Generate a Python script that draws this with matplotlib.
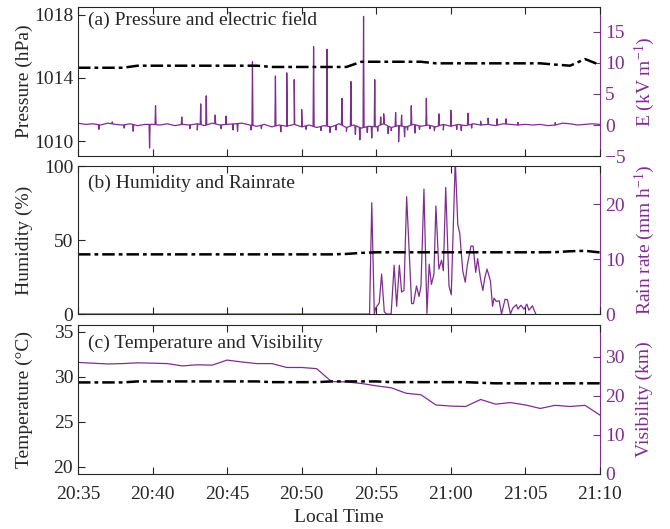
import numpy as np
import matplotlib
matplotlib.use("Agg")
import matplotlib.pyplot as plt

plt.rcParams['font.family'] = ['Liberation Serif', 'DejaVu Serif']
plt.rcParams['mathtext.fontset'] = 'custom'
plt.rcParams['mathtext.rm'] = 'Liberation Serif'
plt.rcParams['mathtext.default'] = 'regular'
plt.rcParams['font.size'] = 14

PURPLE = (0.494, 0.184, 0.556)
DARK = '#262626'

# ---------------- data ----------------
# time in minutes after 20:35
minute_t = list(range(36))
tick_pos = [0, 5, 10, 15, 20, 25, 30, 35]
tick_labels = ['20:35', '20:40', '20:45', '20:50', '20:55', '21:00', '21:05', '21:10']

pressure = [1014.65, 1014.65, 1014.65, 1014.65, 1014.78, 1014.78, 1014.78, 1014.78, 1014.78,
            1014.78, 1014.78, 1014.78, 1014.78, 1014.7, 1014.7, 1014.7, 1014.7, 1014.7,
            1014.7, 1015.03, 1015.03, 1015.03, 1015.03, 1015.03, 1014.93, 1014.93, 1014.93,
            1014.93, 1014.93, 1014.93, 1014.93, 1014.93, 1014.85, 1014.78, 1015.2, 1014.83]

humidity = [40.3, 40.3, 40.3, 40.3, 40.3, 40.3, 40.3, 40.3, 40.3, 40.3, 40.3, 40.3,
            40.3, 40.3, 40.3, 40.3, 40.3, 40.3, 40.6, 41.3, 41.7, 41.7, 41.7, 41.7,
            41.7, 41.7, 41.7, 41.7, 41.7, 41.7, 41.7, 41.7, 41.8, 42.4, 42.7, 41.6]

temperature = [29.37, 29.37, 29.37, 29.37, 29.48, 29.48, 29.48, 29.48, 29.48, 29.48,
               29.48, 29.48, 29.48, 29.4, 29.4, 29.4, 29.4, 29.48, 29.48, 29.48, 29.48,
               29.4, 29.4, 29.4, 29.4, 29.4, 29.4, 29.33, 29.27, 29.27, 29.27, 29.27,
               29.27, 29.27, 29.27, 29.27]

visibility = [28.6, 28.4, 28.2, 28.3, 28.5, 28.4, 28.3, 27.7, 28.0, 27.9, 29.2, 28.7,
              28.3, 28.3, 27.3, 27.3, 27.0, 23.7, 23.6, 23.2, 22.6, 22.1, 20.7, 20.3,
              17.7, 17.4, 17.3, 19.1, 17.9, 18.3, 17.7, 16.8, 17.6, 17.3, 17.6, 15.1]

# electric field: baseline (every 0.5 min) and spikes
efield_base_t = [i * 0.5 for i in range(71)]
efield_base_v = [0.3, 0.1, 0.2, 0.0, 0.3, 0.1, 0.0, 0.2, -0.1, 0.1,
                 0.1, 0.0, 0.2, -0.1, 0.1, 0.0, 0.2, -0.1, 0.3, 0.0,
                 0.1, 0.2, 0.3, 0.0, -0.2, 0.1, -0.3, 0.0, -0.2, 0.1,
                 -0.3, 0.0, -0.4, -0.1, -0.3, 0.2, -0.4, 0.0, -0.5, -0.2,
                 -0.3, 0.2, -0.4, -0.1, -0.3, 0.1, -0.2, 0.0, -0.3, 0.1,
                 -0.2, 0.1, -0.1, 0.2, 0.0, 0.1, -0.1, 0.2, 0.1, 0.0,
                 0.1, 0.0, 0.1, -0.1, 0.0, 0.3, 0.2, 0.0, 0.1, 0.2, 0.1]
spike_t = [1.4, 2.3, 3.1, 3.7, 4.8, 5.2, 6.96, 7.5, 8.0, 8.23, 8.6, 9.2, 9.6, 9.93,
           10.4, 10.7, 11.6, 11.7, 12.3, 13.24, 13.6, 14.0, 14.5, 15.0, 15.3, 15.8,
           16.3, 16.7, 16.9, 17.3, 17.7, 18.0, 18.3, 18.6, 18.9, 19.15, 19.4, 19.7,
           19.9, 20.1, 20.3, 20.5, 20.8, 21.0, 21.3, 21.5, 21.7, 21.9, 22.1, 22.35,
           22.6, 22.9, 23.36, 23.6, 23.9, 24.2, 24.5, 25.0, 25.4, 25.7, 26.15, 26.4,
           27.0, 27.5, 28.1, 28.7, 29.5, 32.0]
spike_v = [-0.7, 0.5, -0.5, -1.0, -3.7, 3.1, 1.3, -0.6, -0.8, 3.4, 4.7, 1.6, -0.6, 1.45,
           -0.8, -1.0, -0.8, 10.2, -0.6, 7.9, -1.1, 8.4, 7.3, 2.5, -0.7, 12.6,
           -0.9, 12.2, -1.2, -0.8, 4.3, -1.0, 7.0, -1.5, -2.4, 17.5, -1.2, -2.1,
           7.3, -1.0, 1.3, 1.8, -1.4, -0.9, 2.0, -2.7, 1.6, -1.9, -0.8, 3.1,
           -1.3, -0.7, 4.3, -0.6, -0.9, 1.8, -0.8, 2.4, -0.7, -0.9, 1.9, -0.5,
           0.6, 1.1, 1.0, 1.0, 0.4, 0.4]

rain_t = [0.0, 19.55, 19.7, 19.87, 19.96, 20.2, 20.36, 20.54, 20.7, 21.0, 21.2, 21.37,
          21.55, 21.7, 21.86, 22.04, 22.37, 22.5, 22.7, 22.87, 23.0, 23.2, 23.4, 23.55,
          23.7, 23.87, 24.0, 24.2, 24.38, 24.5, 24.66, 24.88, 25.03, 25.3, 25.47, 25.6,
          25.8, 25.97, 26.1, 26.35, 26.5, 26.67, 26.8, 27.0, 27.15, 27.28, 27.43, 27.66,
          27.8, 27.9, 28.05, 28.25, 28.4, 28.64, 28.8, 29.0, 29.16, 29.4, 29.5, 29.7,
          29.9, 30.1, 30.24, 30.47, 30.7]
rain_v = [0.0, 0.0, 20.3, 0.0, 1.1, 2.0, 7.3, 0.4, 0.0, 0.0, 8.9, 1.4,
          8.9, 4.0, 4.3, 21.4, 1.9, 1.9, 5.1, 3.2, 5.1, 22.8, 0.1, 9.1,
          5.4, 7.3, 19.7, 8.2, 9.8, 7.9, 23.1, 5.1, 3.5, 28.0, 16.3, 14.7,
          7.9, 5.8, 8.8, 12.4, 12.4, 7.6, 10.1, 6.3, 4.3, 6.6, 8.2, 6.0,
          1.4, 2.9, 2.3, 2.4, 0.0, 2.7, 2.6, 0.0, 1.1, 1.7, 0.9, 1.6,
          0.9, 1.8, 0.7, 1.5, 0.0]

# assemble electric-field trace (narrow spikes on top of baseline)
bt = np.array(efield_base_t)
bv = np.array(efield_base_v)
st = np.array(spike_t)
sv = np.array(spike_v)
w = 0.035
sh_t = np.concatenate([st - w, st + w])
sh_v = np.interp(sh_t, bt, bv)
all_t = np.concatenate([bt, st, sh_t])
all_v = np.concatenate([bv, sv, sh_v])
order = np.argsort(all_t, kind='stable')
e_t, e_v = all_t[order], all_v[order]

# ---------------- figure ----------------
fig = plt.figure(figsize=(6.7, 5.29), dpi=100)
L, W = 0.1164, 0.779
axa = fig.add_axes([L, 0.705, W, 0.2817])
axb = fig.add_axes([L, 0.4064, W, 0.2798])
axc = fig.add_axes([L, 0.104, W, 0.2817])

dash = (5, 1.6, 1.5, 1.6)
LEFT_X = -0.103
RIGHT_X = 1.086


def style(ax, ax2, show_x, left_label, right_label):
    ax.set_xlim(0, 35)
    ax.set_xticks(tick_pos)
    if show_x:
        ax.set_xticklabels(tick_labels)
    else:
        ax.set_xticklabels([])
    ax.tick_params(axis='x', direction='in', top=True, length=5, width=0.8,
                   color=DARK, labelcolor=DARK, labelsize=14, pad=9)
    ax.tick_params(axis='y', direction='in', length=5, width=0.8, color=DARK,
                   labelcolor=DARK, labelsize=14, right=False)
    for s in ['left', 'top', 'bottom']:
        ax.spines[s].set_color(DARK)
        ax.spines[s].set_linewidth(0.8)
    ax.spines['right'].set_visible(False)
    for s in ['left', 'top', 'bottom']:
        ax2.spines[s].set_visible(False)
    ax2.spines['right'].set_color(PURPLE)
    ax2.spines['right'].set_linewidth(0.8)
    ax2.tick_params(axis='y', direction='in', length=5, width=0.8, color=PURPLE,
                    labelcolor=PURPLE, labelsize=14)
    ax.set_ylabel(left_label, color=DARK, fontsize=14, va='center')
    ax.yaxis.set_label_coords(LEFT_X, 0.5)
    ax2.set_ylabel(right_label, color=PURPLE, fontsize=14, va='center')
    ax2.yaxis.set_label_coords(RIGHT_X, 0.5)


# panel (a)
axa2 = axa.twinx()
axa2.plot(e_t, e_v, color=PURPLE, lw=0.9)
axa.plot(minute_t, pressure, color='black', lw=1.8, dashes=dash)
axa.set_zorder(axa2.get_zorder() + 1)
axa.patch.set_visible(False)
axa.set_ylim(1009.05, 1018.5)
axa.set_yticks([1010, 1014, 1018])
axa2.set_ylim(-5, 19)
axa2.set_yticks([-5, 0, 5, 10, 15])
style(axa, axa2, False, 'Pressure (hPa)', 'E (kV m$^{-1}$)')
axa.text(0.019, 0.91, '(a) Pressure and electric field', transform=axa.transAxes,
         va='center', ha='left', fontsize=14, color=DARK)

# panel (b)
axb2 = axb.twinx()
axb2.plot(rain_t, rain_v, color=PURPLE, lw=0.9)
axb.plot(minute_t, humidity, color='black', lw=1.8, dashes=dash)
axb.set_zorder(axb2.get_zorder() + 1)
axb.patch.set_visible(False)
axb.set_ylim(0, 100)
axb.set_yticks([0, 50, 100])
axb2.set_ylim(0, 27)
axb2.set_yticks([0, 10, 20])
style(axb, axb2, False, 'Humidity (%)', 'Rain rate (mm h$^{-1}$)')
axb.text(0.019, 0.885, '(b) Humidity and Rainrate', transform=axb.transAxes,
         va='center', ha='left', fontsize=14, color=DARK)

# panel (c)
axc2 = axc.twinx()
axc2.plot(minute_t, visibility, color=PURPLE, lw=0.9)
axc.plot(minute_t, temperature, color='black', lw=1.8, dashes=dash)
axc.set_zorder(axc2.get_zorder() + 1)
axc.patch.set_visible(False)
axc.set_ylim(19.2, 35.75)
axc.set_yticks([20, 25, 30, 35])
axc2.set_ylim(0, 38.2)
axc2.set_yticks([0, 10, 20, 30])
style(axc, axc2, True, 'Temperature (°C)', 'Visibility (km)')
axc.set_xlabel('Local Time', color=DARK, fontsize=14, labelpad=4)
axc.text(0.019, 0.88, '(c) Temperature and Visibility', transform=axc.transAxes,
         va='center', ha='left', fontsize=14, color=DARK)

fig.savefig('out.png', dpi=100)
